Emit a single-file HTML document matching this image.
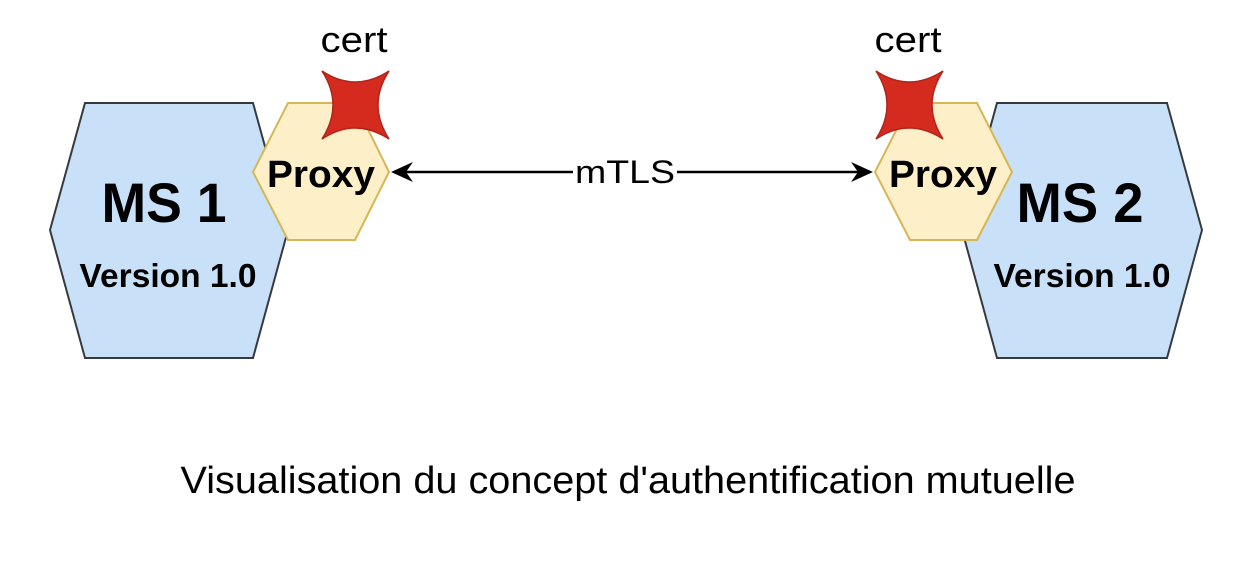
<!DOCTYPE html>
<html><head><meta charset="utf-8"><style>
html,body{margin:0;padding:0;background:#fff;}
svg{display:block;}
text{font-family:"Liberation Sans",Arial,sans-serif;fill:#000;}
</style></head><body>
<svg width="1258" height="570" viewBox="0 0 1258 570" xmlns="http://www.w3.org/2000/svg">
<polygon points="50,230 85,103 253,103 288,230 253,358 85,358" fill="#c8e0f8" stroke="#36393d" stroke-width="2"/>
<polygon points="962,230 997,103 1167,103 1202,230 1167,358 997,358" fill="#c8e0f8" stroke="#36393d" stroke-width="2"/>
<polygon points="253,172 288,103 355,103 389,172 355,240 288,240" fill="#fdefc8" stroke="#d6b656" stroke-width="2"/>
<polygon points="875,172 910,103 977,103 1012,172 977,240 910,240" fill="#fdefc8" stroke="#d6b656" stroke-width="2"/>
<path d="M322,71 Q355,93 389,71 Q367,105 389,139 Q355,117 322,139 Q344,105 322,71 Z" fill="#d52b1e" stroke="#b0251a" stroke-width="1.5"/>
<path d="M876,71 Q909,93 943,71 Q921,105 943,139 Q909,117 876,139 Q898,105 876,71 Z" fill="#d52b1e" stroke="#b0251a" stroke-width="1.5"/>
<line x1="400" y1="172" x2="573" y2="172" stroke="#000" stroke-width="2.5"/>
<line x1="677" y1="172" x2="864" y2="172" stroke="#000" stroke-width="2.5"/>
<path d="M391,172 L413,162 L406,172 L413,182 Z" fill="#000"/>
<path d="M873,172 L851,162 L858,172 L851,182 Z" fill="#000"/>
<text x="625" y="183" font-size="32" text-anchor="middle" textLength="100" lengthAdjust="spacingAndGlyphs">mTLS</text>
<text x="354" y="52" font-size="36" text-anchor="middle" textLength="67" lengthAdjust="spacingAndGlyphs">cert</text>
<text x="908" y="52" font-size="36" text-anchor="middle" textLength="67" lengthAdjust="spacingAndGlyphs">cert</text>
<text x="321" y="187" font-size="38" font-weight="bold" text-anchor="middle" textLength="108" lengthAdjust="spacingAndGlyphs">Proxy</text>
<text x="943" y="187" font-size="38" font-weight="bold" text-anchor="middle" textLength="108" lengthAdjust="spacingAndGlyphs">Proxy</text>
<text x="164" y="222" font-size="56" font-weight="bold" text-anchor="middle" textLength="125" lengthAdjust="spacingAndGlyphs">MS 1</text>
<text x="1080" y="222" font-size="56" font-weight="bold" text-anchor="middle" textLength="127" lengthAdjust="spacingAndGlyphs">MS 2</text>
<text x="168" y="287" font-size="33" font-weight="bold" text-anchor="middle" textLength="177" lengthAdjust="spacingAndGlyphs">Version 1.0</text>
<text x="1082" y="287" font-size="33" font-weight="bold" text-anchor="middle" textLength="177" lengthAdjust="spacingAndGlyphs">Version 1.0</text>
<text x="628" y="493" font-size="38" text-anchor="middle" textLength="895" lengthAdjust="spacingAndGlyphs">Visualisation du concept d'authentification mutuelle</text>
</svg>
</body></html>
